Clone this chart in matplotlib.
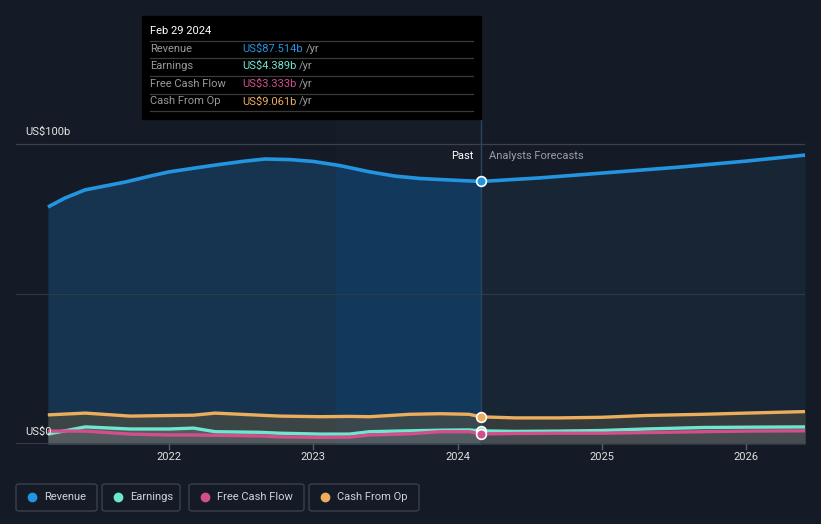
import matplotlib
matplotlib.use("Agg")
import matplotlib.pyplot as plt
from matplotlib.patches import FancyBboxPatch, Rectangle
from matplotlib.lines import Line2D

# ---------------- data (US$ billions, decimal years) ----------------
rev_past_x = [2021.161, 2021.279, 2021.418, 2021.556, 2021.695, 2021.868, 2022.000, 2022.180,
              2022.354, 2022.527, 2022.666, 2022.839, 2022.998, 2023.185, 2023.393, 2023.567,
              2023.740, 2023.948, 2024.163]
rev_past_y = [79.0, 82.0, 84.7, 86.0, 87.3, 89.3, 90.7, 92.0,
              93.2, 94.3, 95.0, 94.8, 94.2, 92.8, 90.7, 89.3,
              88.5, 88.0, 87.514]
rev_fc_x = [2024.163, 2024.57, 2025.00, 2025.54, 2026.00, 2026.41]
rev_fc_y = [87.514, 88.7, 90.3, 92.3, 94.3, 96.3]

small_past_x = [2021.16, 2021.42, 2021.73, 2022.00, 2022.17, 2022.32, 2022.63, 2022.77,
                2023.05, 2023.25, 2023.39, 2023.67, 2023.88, 2024.08, 2024.163]
earn_past = [3.3, 5.7, 5.0, 5.0, 5.3, 4.1, 3.9, 3.6, 3.3, 3.3, 4.1, 4.4, 4.6, 4.7, 4.389]
fcf_past = [4.3, 4.3, 3.3, 3.0, 3.0, 2.9, 2.7, 2.4, 2.2, 2.3, 3.0, 3.4, 4.1, 4.1, 3.333]
cfo_past = [9.7, 10.3, 9.3, 9.5, 9.6, 10.3, 9.6, 9.3, 9.1, 9.2, 9.1, 9.9, 10.1, 9.9, 9.061]

small_fc_x = [2024.163, 2024.40, 2024.70, 2025.00, 2025.30, 2025.70, 2026.00, 2026.41]
earn_fc = [4.389, 4.2, 4.3, 4.5, 5.0, 5.5, 5.6, 5.7]
fcf_fc = [3.333, 3.5, 3.6, 3.6, 3.8, 4.1, 4.3, 4.4]
cfo_fc = [9.061, 8.7, 8.7, 8.9, 9.5, 9.9, 10.3, 10.8]

x_ticks = [2022, 2023, 2024, 2025, 2026]
tooltip_date = "Feb 29 2024"
tooltip_rows = [("Revenue", "US$87.514b"), ("Earnings", "US$4.389b"),
                ("Free Cash Flow", "US$3.333b"), ("Cash From Op", "US$9.061b")]
legend_labels = ["Revenue", "Earnings", "Free Cash Flow", "Cash From Op"]

# ---------------- style ----------------
BG = "#151b26"
C_REV = "#2394df"
C_EARN = "#6ee7cf"
C_FCF = "#d24f8b"
C_CFO = "#ecae5c"
colors = [C_REV, C_EARN, C_FCF, C_CFO]
plt.rcParams['font.family'] = ['Roboto', 'DejaVu Sans']

W, H = 821, 524
fig = plt.figure(figsize=(W / 100, H / 100), dpi=100, facecolor=BG)

def fx(px):
    return px / W

def fy(py):
    return 1 - py / H

ax_left, ax_right, ax_top, ax_bot = 16, 805, 120, 444
ax = fig.add_axes([fx(ax_left), fy(ax_bot), (ax_right - ax_left) / W, (ax_bot - ax_top) / H])
ax.set_facecolor(BG)
x0 = 2022 - (169 - ax_left) / 144.25
x1 = 2022 + (ax_right - 169) / 144.25
ax.set_xlim(x0, x1)
ax.set_ylim(0, (ax_bot - ax_top) / 3.0)
for s in ax.spines.values():
    s.set_visible(False)
ax.set_yticks([])
ax.set_xticks([])

split = 2024.163
band_start = 2023.158

# gridlines
ax.axhline(100, color="#3c424c", lw=0.9, zorder=1)
ax.axhline(50, color="#2d3a48", lw=0.8, zorder=3)
ax.axhline(0, color="#3c424c", lw=1.2, zorder=6)

# highlight band (last year)
ax.axvspan(band_start, split, color="#ffffff", alpha=0.012, lw=0, zorder=0.5)

# revenue fills
ax.fill_between(rev_past_x, 0, rev_past_y, color="#163450", lw=0, zorder=1)
ax.fill_between(rev_fc_x, 0, rev_fc_y, color="#172535", lw=0, zorder=1)
# brighter past-year band under revenue, clipped to the band
band_fill = ax.fill_between(rev_past_x, 0, rev_past_y, color="#12395b", lw=0, zorder=1.2)
clip_rect = Rectangle((band_start, 0), split - band_start, 200, transform=ax.transData)
band_fill.set_clip_path(clip_rect)

# small series fills
ax.fill_between(small_past_x, 0, cfo_past, color="#6b5a3a", alpha=0.45, lw=0, zorder=2)
ax.fill_between(small_fc_x, 0, cfo_fc, color="#5a5545", alpha=0.45, lw=0, zorder=2)
ax.fill_between(small_past_x, 0, earn_past, color="#8a8f9a", alpha=0.30, lw=0, zorder=2.1)
ax.fill_between(small_fc_x, 0, earn_fc, color="#8a8f9a", alpha=0.22, lw=0, zorder=2.1)

# lines
ax.plot(rev_past_x, rev_past_y, color=C_REV, lw=2.6, zorder=5, solid_capstyle="butt", solid_joinstyle="round")
ax.plot(rev_fc_x, rev_fc_y, color=C_REV, lw=2.6, zorder=5, solid_capstyle="butt", solid_joinstyle="round")
for xs, ys, c in [(small_past_x, cfo_past, C_CFO), (small_fc_x, cfo_fc, C_CFO),
                  (small_past_x, earn_past, C_EARN), (small_fc_x, earn_fc, C_EARN),
                  (small_past_x, fcf_past, C_FCF), (small_fc_x, fcf_fc, C_FCF)]:
    ax.plot(xs, ys, color=c, lw=2.4, zorder=5, solid_capstyle="butt", solid_joinstyle="round")

# vertical divider
ax.axvline(split, color="#294560", lw=1.0, zorder=4)

# markers
for v, c in [(rev_past_y[-1], C_REV), (cfo_past[-1], C_CFO), (earn_past[-1], C_EARN), (fcf_past[-1], C_FCF)]:
    ax.plot([split], [v], marker="o", ms=7, mfc=c, mec="white", mew=1.2, zorder=7)

# x ticks
for t in x_ticks:
    ax.plot([t, t], [0, -1.6], color="#555c66", lw=1, clip_on=False, zorder=6)
    fig.text(fx(169 + (t - 2022) * 144.25), fy(457), str(t), color="#e0e0e0",
             fontsize=8, ha="center", va="center")

# y labels
fig.text(fx(25), fy(132), "US$100b", color="#e6e6e6", fontsize=8, ha="left", va="center")
fig.text(fx(25), fy(432), "US$0", color="#e6e6e6", fontsize=8, ha="left", va="center")

# Past / Forecast labels
fig.text(fx(473), fy(156), "Past", color="#ffffff", fontsize=8, ha="right", va="center")
fig.text(fx(489), fy(156), "Analysts Forecasts", color="#9a9ea5", fontsize=8, ha="left", va="center")

# tooltip
fig.patches.append(Rectangle((fx(142), fy(119)), (481 - 142) / W, (119 - 16) / H,
                             transform=fig.transFigure, color="#000000", zorder=10))
fig.text(fx(150), fy(31), tooltip_date, color="#ffffff", fontsize=8, ha="left", va="center", zorder=11)
sep_y = [41, 58, 76, 93.5, 111]
for sy in sep_y:
    fig.add_artist(Line2D([fx(150), fx(473)], [fy(sy), fy(sy)], color="#3a3a3a", lw=0.9, zorder=11))
row_y = [48.5, 66, 84, 101.5]
for (lab, val), ry, c in zip(tooltip_rows, row_y, colors):
    fig.text(fx(150), fy(ry), lab, color="#9a9a9a", fontsize=8, ha="left", va="center", zorder=11)
    t = fig.text(fx(242), fy(ry), val, color=c, fontsize=8, ha="left", va="center", zorder=11)
    fig.canvas.draw()
    bb = t.get_window_extent()
    fig.text(bb.x1 / W + fx(3), fy(ry), "/yr", color="#9a9a9a", fontsize=8, ha="left", va="center", zorder=11)

# legend pills
pills = [(16, 97), (102, 180), (189, 304), (309, 419)]
for (l, r), lab, c in zip(pills, legend_labels, colors):
    box = FancyBboxPatch((fx(l), fy(511)), (r - l) / W, (511 - 484) / H,
                         boxstyle="round,pad=0,rounding_size=0.004",
                         transform=fig.transFigure, fc="none", ec="#3b414b", lw=1.0)
    fig.patches.append(box)
    fig.add_artist(Line2D([fx(l + 16)], [fy(497)], marker="o", ms=6, color=c, lw=0))
    fig.text(fx(l + 28), fy(497), lab, color="#cfd2d6", fontsize=8, ha="left", va="center")

fig.savefig("out.png", dpi=100, facecolor=BG)
